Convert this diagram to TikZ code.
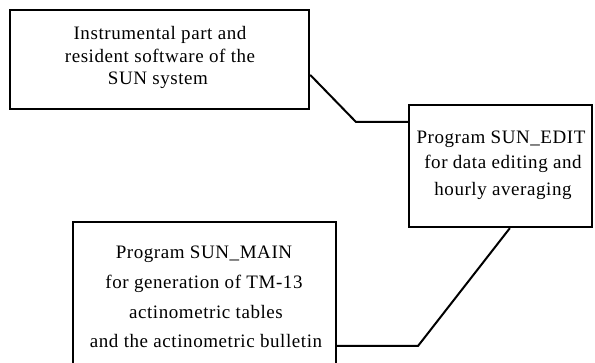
\documentclass[tikz,border=0pt]{standalone}
\usepackage{fontspec}
\setmainfont{Liberation Serif}[LetterSpace=3.0]
\begin{document}
\begin{tikzpicture}[x=1pt,y=-1pt,
  box/.style={draw,line width=2.3pt,inner sep=0pt,minimum width=#1},
  conn/.style={line width=2pt,line join=miter},
  txt/.style={anchor=base,inner sep=0pt,font=\fontsize{19}{22}\selectfont}]
\useasboundingbox (0,0) rectangle (595,363);
\clip (0,0) rectangle (595,363);
% boxes
\node[box=299pt,minimum height=99pt] (b1) at (159.5,59.5) {};
\node[box=183pt,minimum height=122pt] (b2) at (500.5,166) {};
\node[box=263pt,minimum height=178pt] (b3) at (204.5,311) {};
% texts
\node[txt] (t1a) at (160,40) {Instrumental part and};
\node[txt] (t1b) at (160,63) {resident software of the};
\node[txt] (t1c) at (158,85) {SUN system};
\node[txt] (t2a) at (501,144) {Program SUN\_EDIT};
\node[txt] (t2b) at (503,169) {for data editing and};
\node[txt] (t2c) at (503,196) {hourly averaging};
\node[txt] (t3a) at (204,259) {Program SUN\_MAIN};
\node[txt] (t3b) at (204,289) {for generation of TM-13};
\node[txt] (t3c) at (206,319) {actinometric tables};
\node[txt] (t3d) at (206,348) {and the actinometric bulletin};
% connectors
\path (b1.north east) ++(0,66) coordinate (s1);
\coordinate (k1) at (356,122);
\draw[conn] (s1) -- (k1) -- (k1 -| b2.west);
\path (b2.south west) ++(102,0) coordinate (s2);
\coordinate (k2) at (418,346);
\draw[conn] (s2) -- (k2) -- (k2 -| b3.east);
\end{tikzpicture}
\end{document}
